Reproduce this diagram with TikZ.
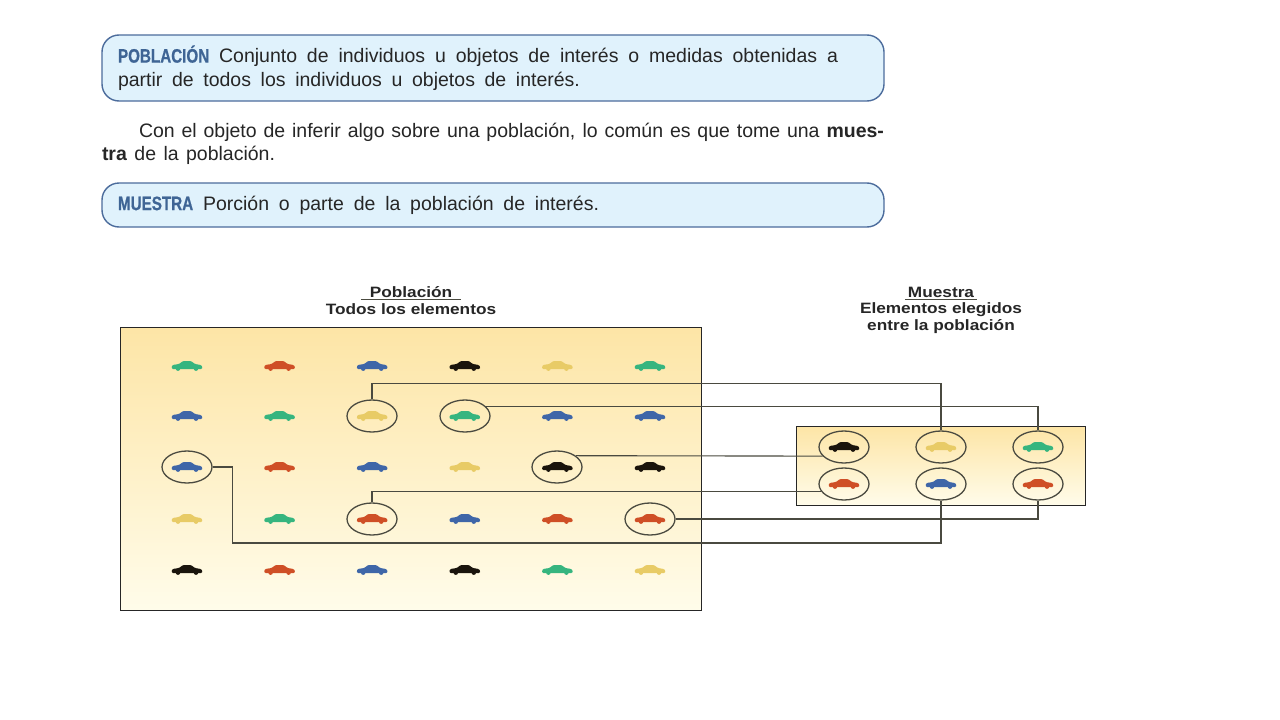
\documentclass[tikz,border=0pt]{standalone}
\usepackage{fontspec}
\setmainfont{Liberation Sans}
\newfontfamily\headfont[FakeStretch=0.78,FakeBold=0.6]{Liberation Sans Bold}
\newfontfamily\wideFont[FakeStretch=1.15]{Liberation Sans}
\definecolor{boxBlue}{HTML}{E0F2FC}
\definecolor{edgeBlue}{HTML}{4C6C9C}
\definecolor{headBlue}{HTML}{3F6595}
\definecolor{inkDark}{HTML}{262626}
\definecolor{lineDark}{HTML}{4A4A40}
\definecolor{sandTop}{HTML}{FDE5A6}
\definecolor{sandLow}{HTML}{FFFCEA}
\definecolor{carG}{HTML}{36B57F}
\definecolor{carR}{HTML}{CF4F26}
\definecolor{carB}{HTML}{3F66A8}
\definecolor{carK}{HTML}{1A140C}
\definecolor{carY}{HTML}{E8CB66}
\newcommand{\tline}[2]{\hbox to #1pt{\spaceskip=0pt \xspaceskip=0pt #2}}
\newcommand{\headword}[1]{{\headfont\color{headBlue}#1}}
\tikzstyle{myDefBox} = [rectangle, rounded corners=17pt, draw=edgeBlue, line width=1.4pt, fill=boxBlue, text=inkDark, text width=750pt, minimum width=782pt, inner xsep=16pt, inner ysep=0pt, align=left, font=\fontsize{19.5}{24}\selectfont]
\tikzstyle{myPara} = [text=inkDark, inner sep=0pt, text width=782pt, align=left, font=\fontsize{19.5}{23}\selectfont]
\tikzstyle{myPanel} = [rectangle, draw=black!85, line width=.9pt, top color=sandTop, bottom color=sandLow, inner sep=0pt]
\tikzstyle{myRing} = [ellipse, draw=lineDark, line width=1.3pt, minimum width=50pt, minimum height=32pt, inner sep=0pt]
\tikzstyle{myTitle} = [text=inkDark, inner sep=0pt, align=center, font=\wideFont\bfseries\fontsize{15}{17}\selectfont]
\tikzstyle{myLink} = [draw=lineDark, line width=1.1pt]
\tikzset{pics/car/.style={code={
	\fill[#1, rounded corners=1pt] (-15.5,1) -- (-14.5,-1) -- (-8,-2) -- (-4,-5) -- (4,-5) -- (8,-2) -- (14,-1) -- (15.5,1) -- (15,3) -- (-15,3) -- cycle;
	\fill[#1] (-9,2.6) circle (2.3) (9,2.6) circle (2.3);
}}}
\usetikzlibrary{shapes.geometric}

\begin{document}
\begin{tikzpicture}[x=1pt,y=-1pt]
	\useasboundingbox[fill=white] (0,0) rectangle (1280,720);

	% text boxes
	\node [myDefBox,minimum height=66pt](defPob) at (493,68){\tline{720}{\headword{POBLACIÓN} Conjunto de individuos u objetos de interés o medidas obtenidas a}\\\tline{462}{partir de todos los individuos u objetos de interés.}};
	\node [myPara](para) at (493,143.5){\hspace*{37pt}\tline{745}{Con el objeto de inferir algo sobre una población, lo común es que tome una \textbf{mues-}}\\\tline{173}{\textbf{tra} de la población.}};
	\node [myDefBox,minimum height=44pt](defMue) at (493,205){\tline{481}{\headword{MUESTRA} Porción o parte de la población de interés.}};

	% panels
	\node [myPanel,minimum width=580.5pt,minimum height=283pt](panelPob) at (411,468.5){};
	\node [myPanel,minimum width=289pt,minimum height=79pt](panelMue) at (940.5,465.5){};

	% titles
	\node [myTitle,minimum width=100pt,minimum height=15pt](titlePob) at (411,292){Población};
	\node [myTitle,below of=titlePob,node distance=17pt](subPob){Todos los elementos};
	\node [myTitle,minimum width=72pt,minimum height=15pt](titleMue) at (941,292){Muestra};
	\node [myTitle,below of=titleMue,node distance=26.5pt](subMue){Elementos elegidos\\entre la población};
	\draw [myLink] (titlePob.south west) -- (titlePob.south east);
	\draw [myLink] (titleMue.south west) -- (titleMue.south east);

	% cars of the population, row by row
	\foreach \rowY/\rowCars in {366/{carG,carR,carB,carK,carY,carG},416/{carB,carG,carY,carG,carB,carB},467/{carB,carR,carB,carY,carK,carK},519/{carY,carG,carR,carB,carR,carR},570/{carK,carR,carB,carK,carG,carY}}{
		\foreach \carCol [count=\i from 0] in \rowCars{
			\pic at ({187+92.6*\i},\rowY) {car=\carCol};
		}
	}

	% chosen elements
	\node [myRing](p23) at (372,416){};
	\node [myRing](p24) at (465,416){};
	\node [myRing](p31) at (187,467){};
	\node [myRing](p35) at (557,467){};
	\node [myRing](p43) at (372,519){};
	\node [myRing](p46) at (650,519){};

	% the sample
	\foreach \sx/\sy/\sname/\carCol in {844/447/s11/carK,941/447/s12/carY,1038/447/s13/carG,844/484/s21/carR,941/484/s22/carB,1038/484/s23/carR}{
		\pic at (\sx,\sy) {car=\carCol};
		\node [myRing](\sname) at (\sx,\sy){};
	}

	% connectors
	\draw [myLink] (p23.north) -- ++(0,-16) -| (s12.north);
	\draw [myLink] (p24.23.5) -| (s13.north);
	\draw [myLink] (p35.31) -- (s11.203.5);
	\draw [myLink] (p43.north) |- (s21.197.3);
	\draw [myLink] (p46.east) -| (s23.south);
	\draw [myLink] (p31.east) -| ++(20,76) -| (s22.south);

\end{tikzpicture}
\end{document}
